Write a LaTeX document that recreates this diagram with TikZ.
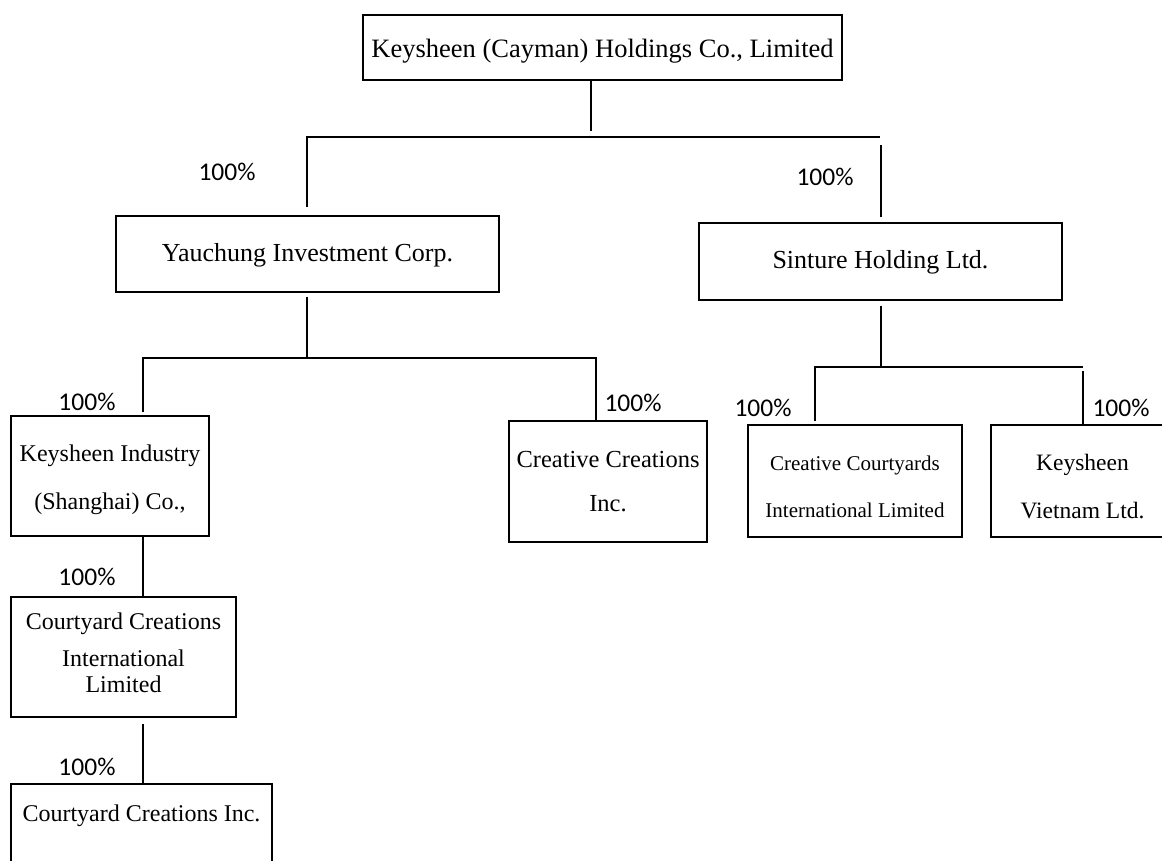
\documentclass[tikz,border=0pt]{standalone}
\usepackage{fontspec}
\setmainfont{Liberation Serif}
\newfontfamily\carlito{Carlito}
\usetikzlibrary{calc}
\begin{document}
\begin{tikzpicture}[x=1pt,y=-1pt,
 box/.style={draw, line width=1.6pt, rectangle, inner sep=0pt},
 txt/.style={inner sep=0pt, align=center},
 pct/.style={font=\carlito\fontsize{25.5}{30}\selectfont, inner sep=0pt},
 conn/.style={line width=1.4pt}]
\useasboundingbox (0,0) rectangle (1162,860);
\clip (0,0) rectangle (1162,860);

% boxes
\node[box, minimum width=479pt, minimum height=65pt] (top) at (602.5,47.5) {};
\node[box, minimum width=383pt, minimum height=76pt] (yau) at (307.5,254) {};
\node[box, minimum width=363pt, minimum height=77pt] (sin) at (880.5,261.5) {};
\node[box, minimum width=198pt, minimum height=120pt] (ki) at (110,476) {};
\node[box, minimum width=225pt, minimum height=120pt] (cciint) at (123.5,657) {};
\node[box, minimum width=261pt, minimum height=110pt, anchor=north] (ccinc) at (141.5,783) {};
\node[box, minimum width=198pt, minimum height=121pt] (cc) at (608,481.5) {};
\node[box, minimum width=214pt, minimum height=112pt] (ccil) at (855,481) {};
\node[box, minimum width=183pt, minimum height=112pt] (kv) at (1082.5,481) {};

% texts
\node[txt, font=\fontsize{26.5}{32}\selectfont] (top-t) at (602.5,51.5) {Keysheen (Cayman) Holdings Co., Limited};
\node[txt, font=\fontsize{26}{32}\selectfont] (yau-t) at (307.5,255) {Yauchung Investment Corp.};
\node[txt, font=\fontsize{26}{32}\selectfont] (sin-t) at (880.5,262.5) {Sinture Holding Ltd.};
\node[txt, font=\fontsize{24}{48}\selectfont] (ki-t) at (110,480) {Keysheen Industry\\(Shanghai) Co.,};
\node[txt, font=\fontsize{24}{37}\selectfont] (cciint-t) at (123.5,653) {Courtyard Creations\\International\\[-11pt]Limited};
\node[txt, font=\fontsize{24}{30}\selectfont] (ccinc-t) at (141.5,816) {Courtyard Creations Inc.};
\node[txt, font=\fontsize{24.5}{44}\selectfont] (cc-t) at (608,481.5) {Creative Creations\\Inc.};
\node[txt, font=\fontsize{21}{47}\selectfont] (ccil-t) at (855,487) {Creative Courtyards\\International Limited};
\node[txt, font=\fontsize{23.5}{48}\selectfont] (kv-t) at (1082.5,487) {Keysheen\\Vietnam Ltd.};

% junctions
\coordinate (j1) at (591,131);
\coordinate (h1l) at (307,137);
\coordinate (h1r) at (880,137);
\coordinate (h1v) at (881,145);
\coordinate (h2m) at (307,358);
\coordinate (h2l) at (143,358);
\coordinate (h2r) at (596,358);
\coordinate (h3m) at (881,367);
\coordinate (h3l) at (815,367);
\coordinate (h3r) at (1083,367);

% connectors
\draw[conn] (top.south -| j1) -- (j1);
\draw[conn] ($(yau.north -| h1l)+(0,-8)$) -- (h1l) -- (h1r);
\draw[conn] ($(sin.north -| h1v)+(0,-5)$) -- (h1v);
\draw[conn] ($(yau.south -| h2m)+(0,4)$) -- (h2m);
\draw[conn] ($(ki.north -| h2l)+(0,-3)$) -- (h2l) -- (h2r) -- (cc.north -| h2r);
\draw[conn] (ki.south -| h2l) -- (cciint.north -| h2l);
\draw[conn] ($(cciint.south -| h2l)+(0,6)$) -- (ccinc.north -| h2l);
\draw[conn] ($(sin.south -| h3m)+(0,5)$) -- (h3m);
\draw[conn] ($(ccil.north -| h3l)+(0,-3)$) -- (h3l) -- (h3r);
\draw[conn] ($(h3r)+(0,4)$) -- (kv.north -| h3r);

% percentages
\node[pct] (p1) at (227,172) {100\%};
\node[pct] (p2) at (825,177) {100\%};
\node[pct] (p3) at (87,402) {100\%};
\node[pct] (p4) at (633,403) {100\%};
\node[pct] (p5) at (763,408) {100\%};
\node[pct] (p6) at (1121,408) {100\%};
\node[pct] (p7) at (87,577) {100\%};
\node[pct] (p8) at (87,767) {100\%};
\end{tikzpicture}
\end{document}
